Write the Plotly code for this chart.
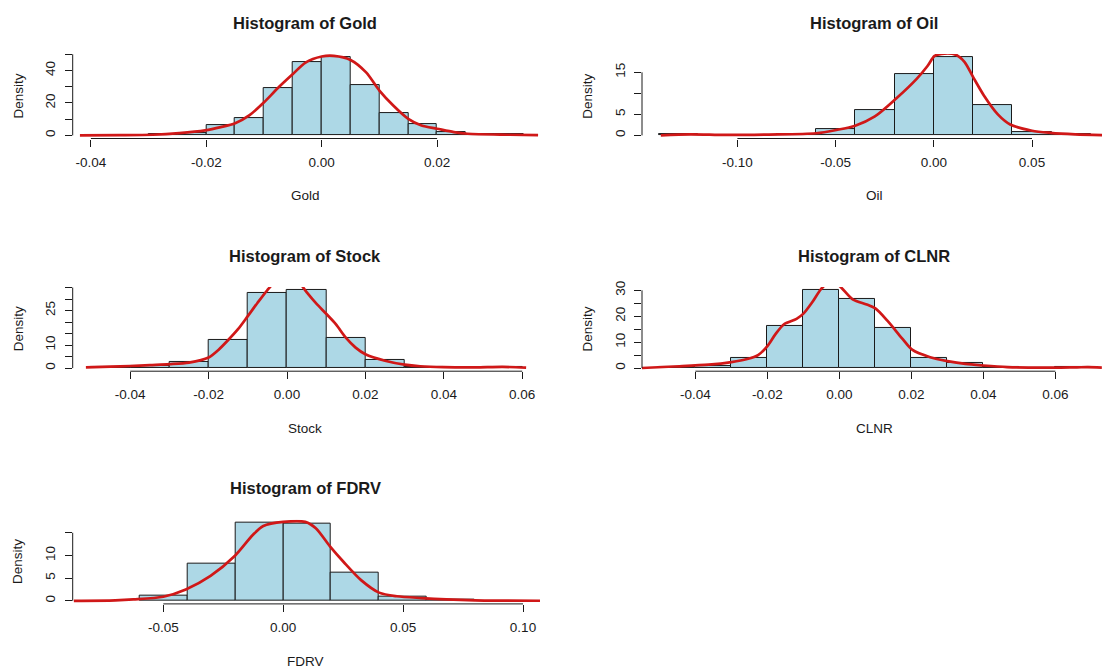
import plotly.graph_objects as go

W, H = 1102, 670

# ---------------- data ----------------
gold_edges = [-0.030, -0.025, -0.020, -0.015, -0.010, -0.005, 0.000, 0.005, 0.010, 0.015, 0.020, 0.025, 0.030, 0.035]
gold_density = [1.0, 1.4, 6.1, 10.8, 29.0, 45.5, 48.2, 31.2, 13.9, 6.7, 2.0, 1.0, 0.7]
gold_kde_x = [-0.0419, -0.035, -0.0293, -0.0247, -0.0202, -0.0175, -0.015, -0.0125, -0.010, -0.0075, -0.005, -0.0028,
              0.000, 0.0021, 0.005, 0.0077, 0.010, 0.0124, 0.015, 0.0173, 0.020, 0.0229, 0.0253, 0.0326, 0.0375]
gold_kde_y = [0.0, 0.1, 0.4, 1.4, 3.1, 5.1, 7.5, 12.5, 20.4, 29.5, 37.8, 44.9,
              48.6, 49.0, 46.5, 38.8, 27.6, 18.4, 10.2, 6.1, 4.1, 2.0, 1.0, 0.4, 0.1]
gold_xticks = [-0.04, -0.02, 0.00, 0.02]
gold_xlabels = ["-0.04", "-0.02", "0.00", "0.02"]
gold_yticks = [0, 10, 20, 30, 40, 50]
gold_ylabels = ["0", "", "20", "", "40", ""]

oil_edges = [-0.14, -0.12, -0.10, -0.08, -0.06, -0.04, -0.02, 0.00, 0.02, 0.04, 0.06, 0.08]
oil_density = [0.3, 0.0, 0.0, 0.3, 1.4, 6.1, 14.6, 18.6, 7.1, 0.8, 0.3]
oil_kde_x = [-0.139, -0.124, -0.106, -0.084, -0.060, -0.0495, -0.040, -0.030, -0.0193, -0.0086, -0.0032, 0.0004,
             0.004, 0.0111, 0.0156, 0.0201, 0.0255, 0.0326, 0.0389, 0.050, 0.0594, 0.072, 0.086]
oil_kde_y = [0.0, 0.25, 0.1, 0.2, 0.5, 1.3, 2.3, 4.5, 8.7, 13.5, 16.5, 18.9,
             19.4, 19.2, 17.5, 13.8, 9.5, 5.0, 2.6, 1.1, 0.6, 0.25, 0.05]
oil_xticks = [-0.10, -0.05, 0.00, 0.05]
oil_xlabels = ["-0.10", "-0.05", "0.00", "0.05"]
oil_yticks = [0, 5, 10, 15]
oil_ylabels = ["0", "5", "", "15"]

stock_edges = [-0.05, -0.04, -0.03, -0.02, -0.01, 0.00, 0.01, 0.02, 0.03, 0.04, 0.05, 0.06]
stock_density = [0.4, 0.9, 2.7, 12.2, 32.7, 33.9, 13.3, 3.5, 0.7, 0.0, 0.4]
stock_kde_x = [-0.0513, -0.045, -0.040, -0.035, -0.030, -0.025, -0.020, -0.0175, -0.015, -0.0125, -0.010, -0.0075,
               -0.005, -0.0025, 0.0, 0.0025, 0.005, 0.0075, 0.010, 0.0125, 0.015, 0.0175, 0.020, 0.025, 0.030,
               0.034, 0.040, 0.048, 0.055, 0.061]
stock_kde_y = [0.3, 0.6, 0.9, 1.3, 1.7, 2.4, 4.6, 7.9, 12.2, 16.9, 22.6, 28.4,
               33.9, 38.5, 40.5, 38.5, 33.0, 28.0, 23.6, 19.0, 13.2, 8.9, 6.0, 3.2, 1.5,
               0.8, 0.4, 0.3, 0.5, 0.2]
stock_xticks = [-0.04, -0.02, 0.00, 0.02, 0.04, 0.06]
stock_xlabels = ["-0.04", "-0.02", "0.00", "0.02", "0.04", "0.06"]
stock_yticks = [0, 5, 10, 15, 20, 25, 30, 35]
stock_ylabels = ["0", "", "10", "", "", "25", "", ""]

clnr_edges = [-0.05, -0.04, -0.03, -0.02, -0.01, 0.00, 0.01, 0.02, 0.03, 0.04, 0.05, 0.06, 0.07]
clnr_density = [0.3, 0.8, 4.0, 16.3, 30.1, 26.8, 15.4, 4.0, 1.9, 0.5, 0.0, 0.3]
clnr_kde_x = [-0.0552, -0.046, -0.0363, -0.030, -0.0256, -0.0226, -0.020, -0.0178, -0.0153, -0.0119, -0.010,
              -0.0075, -0.0051, -0.0025, 0.0, 0.0037, 0.0076, 0.010, 0.0135, 0.0174, 0.0203, 0.0252, 0.030,
              0.035, 0.040, 0.0466, 0.0564, 0.066, 0.069, 0.0729]
clnr_kde_y = [0.0, 0.6, 1.3, 2.3, 3.5, 5.0, 8.5, 13.0, 17.0, 19.0, 21.0,
              25.5, 30.5, 33.5, 31.7, 26.5, 24.5, 23.0, 18.0, 11.5, 7.0, 4.2, 2.7,
              1.6, 1.0, 0.4, 0.15, 0.3, 0.35, 0.2]
clnr_xticks = [-0.04, -0.02, 0.00, 0.02, 0.04, 0.06]
clnr_xlabels = ["-0.04", "-0.02", "0.00", "0.02", "0.04", "0.06"]
clnr_yticks = [0, 5, 10, 15, 20, 25, 30]
clnr_ylabels = ["0", "", "10", "", "20", "", "30"]

fdrv_edges = [-0.06, -0.04, -0.02, 0.00, 0.02, 0.04, 0.06, 0.08]
fdrv_density = [1.1, 8.1, 17.2, 16.9, 6.2, 0.9, 0.2]
fdrv_kde_x = [-0.0873, -0.070, -0.0625, -0.050, -0.0406, -0.0303, -0.020, -0.0127, -0.0083, 0.0, 0.0092,
              0.0136, 0.0195, 0.0253, 0.0326, 0.040, 0.0474, 0.0576, 0.068, 0.080, 0.108]
fdrv_kde_y = [0.0, 0.1, 0.3, 0.9, 2.5, 5.5, 10.0, 14.5, 16.5, 17.4, 17.4,
              16.0, 12.0, 8.5, 4.5, 1.8, 1.0, 0.6, 0.3, 0.1, 0.0]
fdrv_xticks = [-0.05, 0.00, 0.05, 0.10]
fdrv_xlabels = ["-0.05", "0.00", "0.05", "0.10"]
fdrv_yticks = [0, 5, 10, 15]
fdrv_ylabels = ["0", "5", "10", ""]

# ---------------- layout geometry (pixels) ----------------
COLS = [dict(x0=72.7, x1=540.0, cx=305.0), dict(x0=642.0, x1=1102.0, cx=874.0)]
ROWS = [dict(top=48.5, bot=133.7), dict(top=283.5, bot=368.5), dict(top=518.3, bot=603.3)]
panels = [
    dict(name="Gold", row=0, col=0, zero=321.7, ppu=5770.0, edges=gold_edges, dens=gold_density,
         kx=gold_kde_x, ky=gold_kde_y, xt=gold_xticks, xl=gold_xlabels, yt=gold_yticks, yl=gold_ylabels),
    dict(name="Oil", row=0, col=1, zero=933.8, ppu=1964.0, edges=oil_edges, dens=oil_density,
         kx=oil_kde_x, ky=oil_kde_y, xt=oil_xticks, xl=oil_xlabels, yt=oil_yticks, yl=oil_ylabels),
    dict(name="Stock", row=1, col=0, zero=287.0, ppu=3920.0, edges=stock_edges, dens=stock_density,
         kx=stock_kde_x, ky=stock_kde_y, xt=stock_xticks, xl=stock_xlabels, yt=stock_yticks, yl=stock_ylabels),
    dict(name="CLNR", row=1, col=1, zero=839.4, ppu=3600.0, edges=clnr_edges, dens=clnr_density,
         kx=clnr_kde_x, ky=clnr_kde_y, xt=clnr_xticks, xl=clnr_xlabels, yt=clnr_yticks, yl=clnr_ylabels),
    dict(name="FDRV", row=2, col=0, zero=283.2, ppu=2398.0, edges=fdrv_edges, dens=fdrv_density,
         kx=fdrv_kde_x, ky=fdrv_kde_y, xt=fdrv_xticks, xl=fdrv_xlabels, yt=fdrv_yticks, yl=fdrv_ylabels),
]

FONT = "Liberation Sans, Arial, sans-serif"
INK = "#1a1a1a"
BAR_FILL = "#ADD8E6"
RED = "#D01818"

fig = go.Figure()
annotations = []
shapes = []
layout_axes = {}

def px_x(p):
    return p / W

def px_y(p):
    return 1 - p / H

for i, p in enumerate(panels, start=1):
    c = COLS[p["col"]]
    r = ROWS[p["row"]]
    xa = "x" if i == 1 else f"x{i}"
    ya = "y" if i == 1 else f"y{i}"
    xkey = "xaxis" if i == 1 else f"xaxis{i}"
    ykey = "yaxis" if i == 1 else f"yaxis{i}"

    edges = p["edges"]
    centers = [(edges[k] + edges[k + 1]) / 2 for k in range(len(edges) - 1)]
    widths = [edges[k + 1] - edges[k] for k in range(len(edges) - 1)]
    m = max(p["dens"])

    fig.add_trace(go.Bar(x=centers, y=p["dens"], width=widths, xaxis=xa, yaxis=ya,
                         marker=dict(color=BAR_FILL, line=dict(color=INK, width=1)),
                         showlegend=False, hoverinfo="skip"))
    fig.add_trace(go.Scatter(x=p["kx"], y=p["ky"], mode="lines", xaxis=xa, yaxis=ya,
                             line=dict(color=RED, width=2.7, shape="spline", smoothing=0.8),
                             showlegend=False, hoverinfo="skip"))

    xr = [(c["x0"] - p["zero"]) / p["ppu"], (c["x1"] - p["zero"]) / p["ppu"]]
    yr = [-0.04 * m, 1.04 * m]

    layout_axes[xkey] = dict(domain=[px_x(c["x0"]), px_x(c["x1"])], range=xr, anchor=ya,
                             tickmode="array", tickvals=p["xt"], ticktext=p["xl"],
                             ticks="outside", ticklen=7, tickwidth=1, tickcolor=INK,
                             ticklabelstandoff=4,
                             showgrid=False, zeroline=False, showline=False,
                             tickfont=dict(family=FONT, size=13.5, color=INK), fixedrange=True)
    layout_axes[ykey] = dict(domain=[px_y(r["bot"]), px_y(r["top"])], range=yr, anchor=xa,
                             tickmode="array", tickvals=p["yt"], ticktext=p["yl"], tickangle=-90,
                             ticks="outside", ticklen=7, tickwidth=1, tickcolor=INK,
                             ticklabelstandoff=4,
                             showgrid=False, zeroline=False, showline=False,
                             tickfont=dict(family=FONT, size=13.5, color=INK), fixedrange=True)

    shapes.append(dict(type="line", xref=xa, yref=f"{ya} domain", x0=p["xt"][0], x1=p["xt"][-1],
                       y0=0, y1=0, line=dict(color=INK, width=1)))
    shapes.append(dict(type="line", xref=f"{xa} domain", yref=ya, x0=0, x1=0,
                       y0=p["yt"][0], y1=p["yt"][-1], line=dict(color=INK, width=1)))

    annotations.append(dict(text=f"<b>Histogram of {p['name']}</b>", xref="paper", yref="paper",
                            x=px_x(c["cx"]), y=px_y(r["top"] - 31.5), xanchor="center", yanchor="middle",
                            showarrow=False, font=dict(family=FONT, size=16.5, color=INK)))
    annotations.append(dict(text=p["name"], xref="paper", yref="paper",
                            x=px_x(c["cx"]), y=px_y(r["bot"] + 58), xanchor="center", yanchor="middle",
                            showarrow=False, font=dict(family=FONT, size=13.5, color=INK)))
    annotations.append(dict(text="Density", xref="paper", yref="paper", textangle=-90,
                            x=px_x(c["x0"] - 54.5), y=px_y((r["top"] + r["bot"]) / 2),
                            xanchor="center", yanchor="middle",
                            showarrow=False, font=dict(family=FONT, size=13.5, color=INK)))

fig.update_layout(width=W, height=H, margin=dict(l=0, r=0, t=0, b=0),
                  paper_bgcolor="white", plot_bgcolor="white", bargap=0,
                  annotations=annotations, shapes=shapes, showlegend=False,
                  **layout_axes)

fig.write_html("out.html", config=dict(displayModeBar=False),
               post_script="document.body.style.margin='0';document.body.style.overflow='hidden';")
